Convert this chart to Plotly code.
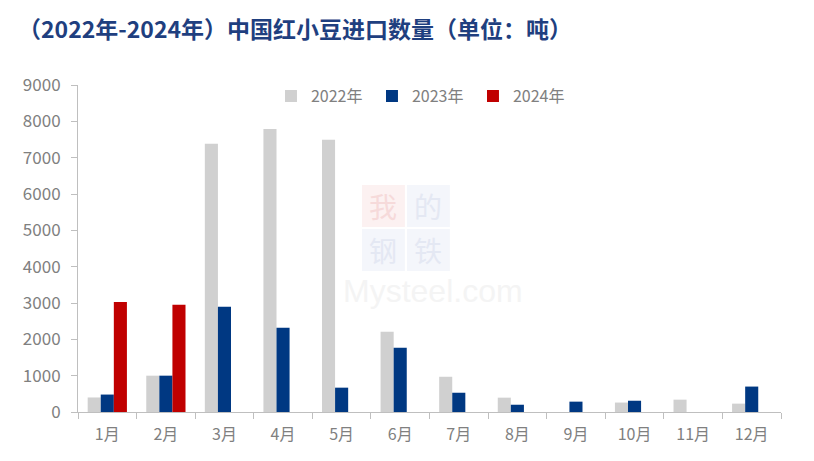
import plotly.graph_objects as go

months = ["1月", "2月", "3月", "4月", "5月", "6月", "7月", "8月", "9月", "10月", "11月", "12月"]
y2022 = [400, 1000, 7380, 7790, 7490, 2210, 970, 395, None, 260, 340, 230]
y2023 = [480, 1000, 2900, 2320, 670, 1770, 530, 200, 285, 310, None, 700]
y2024 = [3030, 2950, None, None, None, None, None, None, None, None, None, None]
series_names = ["2022年", "2023年", "2024年"]
colors = ["#D0D0D0", "#003882", "#C00000"]

fig = go.Figure()
for name, vals, c in zip(series_names, [y2022, y2023, y2024], colors):
    fig.add_trace(go.Bar(x=months, y=vals, name=name, marker=dict(color=c, line=dict(width=0))))

# faint watermark
wm_boxes = [("我", 0.404, 0.465, 0.566, 0.694, "#FCF1F1", "#F6DADA"),
            ("的", 0.468, 0.529, 0.566, 0.694, "#F4F6FB", "#E4E8F3"),
            ("钢", 0.404, 0.465, 0.431, 0.560, "#F4F6FB", "#E4E8F3"),
            ("铁", 0.468, 0.529, 0.431, 0.560, "#F4F6FB", "#E4E8F3")]
for ch, x0, x1, y0, y1, bg, fc in wm_boxes:
    fig.add_shape(type="rect", xref="paper", yref="paper", x0=x0, x1=x1, y0=y0, y1=y1,
                  fillcolor=bg, line=dict(width=0), layer="below")
    fig.add_annotation(text=ch, xref="paper", yref="paper", x=(x0 + x1) / 2, y=(y0 + y1) / 2,
                       showarrow=False, font=dict(family="Noto Sans CJK SC", size=28, color=fc))
fig.add_annotation(text="Mysteel.com", xref="paper", yref="paper", x=0.505, y=0.37,
                   showarrow=False, font=dict(family="Liberation Sans", size=32, color="#F4F4F4"))

font_gray = "#808080"
axis_gray = "#BFBFBF"
fig.update_layout(
    width=814, height=461,
    margin=dict(l=70, r=41, t=77, b=57),
    paper_bgcolor="white", plot_bgcolor="white",
    barmode="group", bargap=0.33, bargroupgap=0,
    font=dict(family="Noto Sans CJK SC, sans-serif", color=font_gray, size=16),
    title=dict(text="<b>（2022年-2024年）中国红小豆进口数量（单位：吨）</b>",
               x=0.0123, xanchor="left", y=0.952, yanchor="middle",
               font=dict(family="Noto Sans CJK SC", size=23, color="#1F3F7F")),
    legend=dict(orientation="h", x=0.490, xanchor="center", y=0.966, yanchor="middle",
                font=dict(size=16, color=font_gray), bgcolor="rgba(0,0,0,0)",
                itemwidth=30, traceorder="normal", entrywidth=56, entrywidthmode="pixels"),
    xaxis=dict(type="category", showline=True, linecolor=axis_gray, linewidth=1,
               ticks="outside", tickson="boundaries", ticklen=6, tickcolor=axis_gray,
               tickfont=dict(size=16, color=font_gray), showgrid=False, fixedrange=True,
               ticklabelstandoff=8),
    yaxis=dict(range=[0, 9000], dtick=1000, showline=True, linecolor=axis_gray, linewidth=1,
               ticks="outside", ticklen=6, tickcolor=axis_gray, showgrid=False, zeroline=False,
               tickfont=dict(size=17, color=font_gray), tickformat="d",
               ticklabelstandoff=7),
)

fig.write_html("out.html")
